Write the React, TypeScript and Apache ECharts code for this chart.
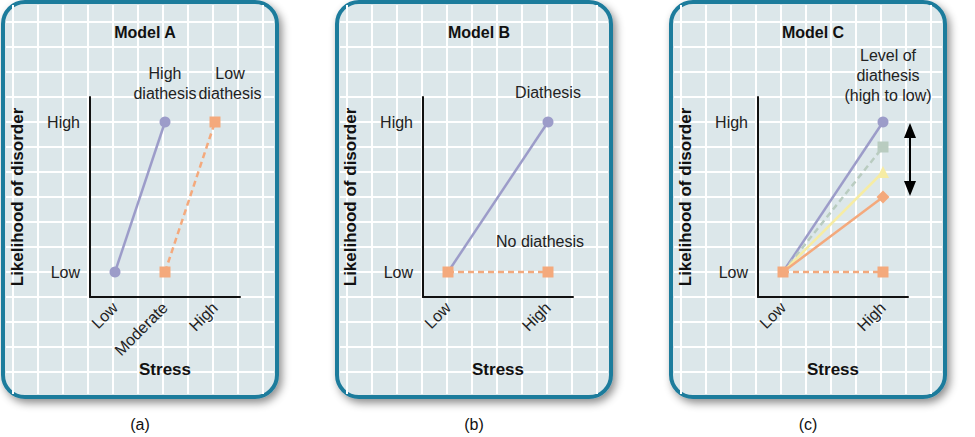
import React, { useEffect, useRef } from "react";
import * as echarts from "echarts";

const PURPLE = "#9c9cc9";
const ORANGE = "#f4a97c";
const SAGE = "#b9ccc0";
const YELLOW = "#f6eca4";

// x values: Low = 1, Moderate = 3, High = 5 ; y values: Low = 1, High = 7
const xTicksA: Record<number, string> = { 1: "Low", 3: "Moderate", 5: "High" };
const xTicksBC: Record<number, string> = { 1: "Low", 5: "High" };
const yTicks: Record<number, string> = { 1: "Low", 7: "High" };

const highDiathesisA = [[1, 1], [3, 7]];
const lowDiathesisA = [[3, 1], [5, 7]];
const diathesisB = [[1, 1], [5, 7]];
const noDiathesisB = [[1, 1], [5, 1]];
const levelC1 = [[1, 1], [5, 7]];
const levelC2 = [[1, 1], [5, 6]];
const levelC3 = [[1, 1], [5, 5]];
const levelC4 = [[1, 1], [5, 4]];
const levelC5 = [[1, 1], [5, 1]];

const panels = [
  { x: 3, title: "Model A", cap: "(a)", gridLeft: 90 },
  { x: 337, title: "Model B", cap: "(b)", gridLeft: 423 },
  { x: 671, title: "Model C", cap: "(c)", gridLeft: 758 },
];
const FONT = "Liberation Sans, Arial, sans-serif";

const App = () => {
  const ref = useRef<HTMLDivElement>(null);
  useEffect(() => {
    document.body.style.margin = "0";
    const chart = echarts.init(ref.current, null, { renderer: "svg" });
    const graphic: any[] = [];
    panels.forEach((p) => {
      const w = 274, h = 395, y = 2;
      graphic.push({
        type: "rect", z: -10, shape: { x: p.x, y, width: w, height: h, r: 22 },
        style: { fill: "#dce7ea", stroke: "#1f7b9c", lineWidth: 4, shadowBlur: 8, shadowOffsetX: 3, shadowOffsetY: 4, shadowColor: "rgba(0,0,0,0.45)" },
      });
      for (let gx = p.x + 10; gx < p.x + w - 3; gx += 25) {
        graphic.push({ type: "line", z: -9, shape: { x1: gx, y1: y + 3, x2: gx, y2: y + h - 3 }, style: { stroke: "#fff", lineWidth: 2 } });
      }
      for (let gy = 22; gy < y + h - 3; gy += 25) {
        graphic.push({ type: "line", z: -9, shape: { x1: p.x + 3, y1: gy, x2: p.x + w - 3, y2: gy }, style: { stroke: "#fff", lineWidth: 2 } });
      }
      graphic.push({ type: "text", x: p.x + 142, y: 32, style: { text: p.title, font: `bold 16px ${FONT}`, fill: "#111", align: "center", verticalAlign: "middle" } });
      graphic.push({ type: "text", x: p.x + 137, y: 424, style: { text: p.cap, font: `16px ${FONT}`, fill: "#111", align: "center", verticalAlign: "middle" } });
    });
    const note = (x: number, y: number, text: string) => ({
      type: "text", x, y, style: { text, font: `16px ${FONT}`, fill: "#222", align: "center", verticalAlign: "top", lineHeight: 20 },
    });
    graphic.push(note(165, 63, "High\ndiathesis"), note(230, 63, "Low\ndiathesis"));
    graphic.push(note(548, 82, "Diathesis"), note(540, 231, "No diathesis"));
    graphic.push(note(888, 45, "Level of\ndiathesis\n(high to low)"));
    // double arrow
    graphic.push({ type: "line", shape: { x1: 910, y1: 132, x2: 910, y2: 188 }, style: { stroke: "#000", lineWidth: 2 } });
    graphic.push({ type: "polygon", shape: { points: [[910, 123], [904, 138], [916, 138]] }, style: { fill: "#000" } });
    graphic.push({ type: "polygon", shape: { points: [[910, 196], [904, 181], [916, 181]] }, style: { fill: "#000" } });

    const axisCommon = { axisTick: { show: false }, splitLine: { show: false }, axisLine: { lineStyle: { color: "#111", width: 2 } } };
    const xAxis = panels.map((p, i) => ({
      type: "value", gridIndex: i, min: 0, max: 6, interval: 1, ...axisCommon,
      name: "Stress", nameLocation: "middle", nameGap: 64,
      nameTextStyle: { fontFamily: FONT, fontWeight: "bold", fontSize: 17, color: "#111" },
      axisLabel: {
        rotate: 45, margin: 8, fontFamily: FONT, fontSize: 16, color: "#222", showMinLabel: true, showMaxLabel: true,
        formatter: (v: number) => (i === 0 ? xTicksA : xTicksBC)[v] ?? "",
      },
    }));
    const yAxis = panels.map((p, i) => ({
      type: "value", gridIndex: i, min: 0, max: 8, interval: 1, ...axisCommon,
      name: "Likelihood of disorder", nameLocation: "middle", nameGap: 64,
      nameTextStyle: { fontFamily: FONT, fontWeight: "bold", fontSize: 17, color: "#111" },
      axisLabel: { margin: 10, fontFamily: FONT, fontSize: 16, color: "#222", formatter: (v: number) => yTicks[v] ?? "" },
    }));
    const grid = panels.map((p) => ({ left: p.gridLeft, top: 97, width: 150, height: 200 }));

    const line = (idx: number, data: number[][], color: string, symbol: string, dashed: boolean, showStart: boolean, z = 2) => ({
      type: "line", xAxisIndex: idx, yAxisIndex: idx, z,
      symbol, symbolSize: symbol === "triangle" ? 12 : symbol === "diamond" ? 13 : 11,
      showSymbol: true,
      itemStyle: { color, opacity: 1 },
      lineStyle: { color, width: 2.5, type: dashed ? [6, 4] : "solid" },
      symbolKeepAspect: true,
      data: showStart ? data : data.map((d, k) => (k === 0 ? { value: d, symbol: "none" } : d)),
    });

    chart.setOption({
      animation: false,
      graphic,
      grid,
      xAxis,
      yAxis,
      series: [
        line(0, highDiathesisA, PURPLE, "circle", false, true),
        line(0, lowDiathesisA, ORANGE, "rect", true, true),
        line(1, diathesisB, PURPLE, "circle", false, false),
        line(1, noDiathesisB, ORANGE, "rect", true, true, 3),
        line(2, levelC1, PURPLE, "circle", false, false),
        line(2, levelC2, SAGE, "rect", true, false),
        line(2, levelC3, YELLOW, "triangle", false, false),
        line(2, levelC4, ORANGE, "diamond", false, false),
        line(2, levelC5, ORANGE, "rect", true, true, 3),
      ],
    });
    return () => chart.dispose();
  }, []);
  return <div ref={ref} style={{ width: "975px", height: "437px" }}></div>;
};

export default App;
